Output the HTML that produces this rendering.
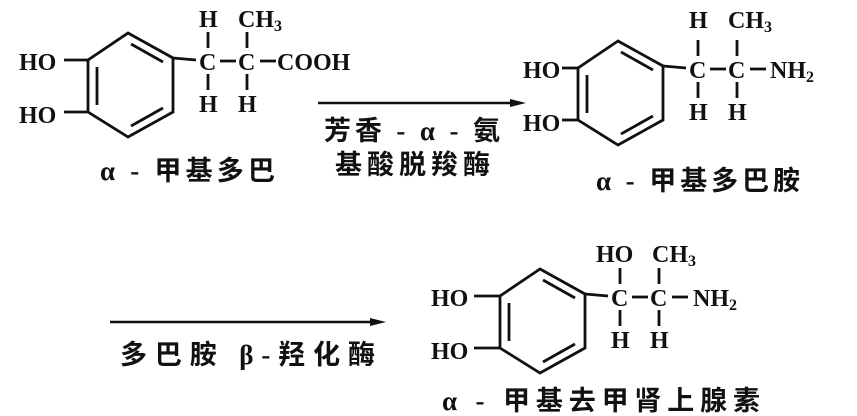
<!DOCTYPE html>
<html><head><meta charset="utf-8"><style>
html,body{margin:0;padding:0;background:#fff;}
svg{display:block;}
text{font-family:"Liberation Serif","Noto Serif CJK SC",serif;font-weight:bold;fill:#111;}
.c{font-family:"Liberation Serif","Noto Sans CJK SC",serif;}
</style></head><body>
<svg width="857" height="416" viewBox="0 0 857 416" xmlns="http://www.w3.org/2000/svg">
<defs>
<g id="ring" stroke="#111" stroke-width="2.8" fill="none">
<polygon points="128,33 173,58 173,112 128,137 88,112 88,60"/>
<line x1="131" y1="44" x2="163" y2="62"/>
<line x1="97" y1="67" x2="97" y2="105"/>
<line x1="131" y1="126" x2="163" y2="108"/>
<line x1="173" y1="58" x2="196" y2="60"/>
<line x1="220" y1="61" x2="236" y2="61"/>
<line x1="208" y1="32" x2="208" y2="48"/>
<line x1="208" y1="74" x2="208" y2="90"/>
<line x1="247" y1="32" x2="247" y2="48"/>
<line x1="247" y1="74" x2="247" y2="90"/>
<line x1="260" y1="61" x2="276" y2="61"/>
</g>
</defs>
<!-- molecule 1 -->
<use href="#ring"/>
<g stroke="#111" stroke-width="2.8"><line x1="64" y1="60" x2="88" y2="60"/><line x1="64" y1="112" x2="88" y2="112"/></g>
<text x="19" y="70" font-size="24">HO</text>
<text x="19" y="123" font-size="24">HO</text>
<text x="199" y="70" font-size="24">C</text>
<text x="238" y="70" font-size="24">C</text>
<text x="199" y="27" font-size="24">H</text>
<text x="199" y="112" font-size="24">H</text>
<text x="238" y="112" font-size="24">H</text>
<text x="238" y="27" font-size="24">CH<tspan font-size="16" dy="4">3</tspan></text>
<text x="277" y="70" font-size="24">COOH</text>
<text class="c" x="100" y="180" font-size="27" textLength="175" lengthAdjust="spacing">α - 甲基多巴</text>

<!-- arrow 1 -->
<line x1="318" y1="103" x2="518" y2="103" stroke="#111" stroke-width="2.5"/>
<polygon points="526,103 510,99 510,107" fill="#111"/>
<text class="c" x="324" y="140" font-size="27" textLength="176" lengthAdjust="spacing">芳香 - α - 氨</text>
<text class="c" x="335" y="174" font-size="27" textLength="155" lengthAdjust="spacing">基酸脱羧酶</text>

<!-- molecule 2 -->
<g transform="translate(490,8)">
<use href="#ring"/>
<g stroke="#111" stroke-width="2.8"><line x1="72" y1="60" x2="88" y2="60"/><line x1="72" y1="112" x2="88" y2="112"/></g>
<text x="33" y="70" font-size="24">HO</text>
<text x="33" y="123" font-size="24">HO</text>
<text x="199" y="70" font-size="24">C</text>
<text x="238" y="70" font-size="24">C</text>
<text x="199" y="20" font-size="24">H</text>
<text x="199" y="112" font-size="24">H</text>
<text x="238" y="112" font-size="24">H</text>
<text x="238" y="20" font-size="24">CH<tspan font-size="16" dy="4">3</tspan></text>
<text x="280" y="70" font-size="24">NH<tspan font-size="16" dy="4">2</tspan></text>
</g>
<text class="c" x="596" y="190" font-size="27" textLength="204" lengthAdjust="spacing">α - 甲基多巴胺</text>

<!-- arrow 2 -->
<line x1="110" y1="322" x2="378" y2="322" stroke="#111" stroke-width="2.5"/>
<polygon points="386,322 370,318 370,326" fill="#111"/>
<text class="c" x="120" y="364" font-size="27" textLength="255" lengthAdjust="spacing">多巴胺 β-羟化酶</text>

<!-- molecule 3 -->
<g transform="translate(412,236)">
<use href="#ring"/>
<g stroke="#111" stroke-width="2.8"><line x1="62" y1="60" x2="88" y2="60"/><line x1="62" y1="112" x2="88" y2="112"/></g>
<text x="19" y="70" font-size="24">HO</text>
<text x="19" y="123" font-size="24">HO</text>
<text x="199" y="70" font-size="24">C</text>
<text x="238" y="70" font-size="24">C</text>
<text x="184" y="26" font-size="24">HO</text>
<text x="199" y="112" font-size="24">H</text>
<text x="238" y="112" font-size="24">H</text>
<text x="240" y="26" font-size="24">CH<tspan font-size="16" dy="4">3</tspan></text>
<text x="281" y="70" font-size="24">NH<tspan font-size="16" dy="4">2</tspan></text>
</g>
<text class="c" x="442" y="410" font-size="27" textLength="318" lengthAdjust="spacing">α - 甲基去甲肾上腺素</text>
</svg>
</body></html>
